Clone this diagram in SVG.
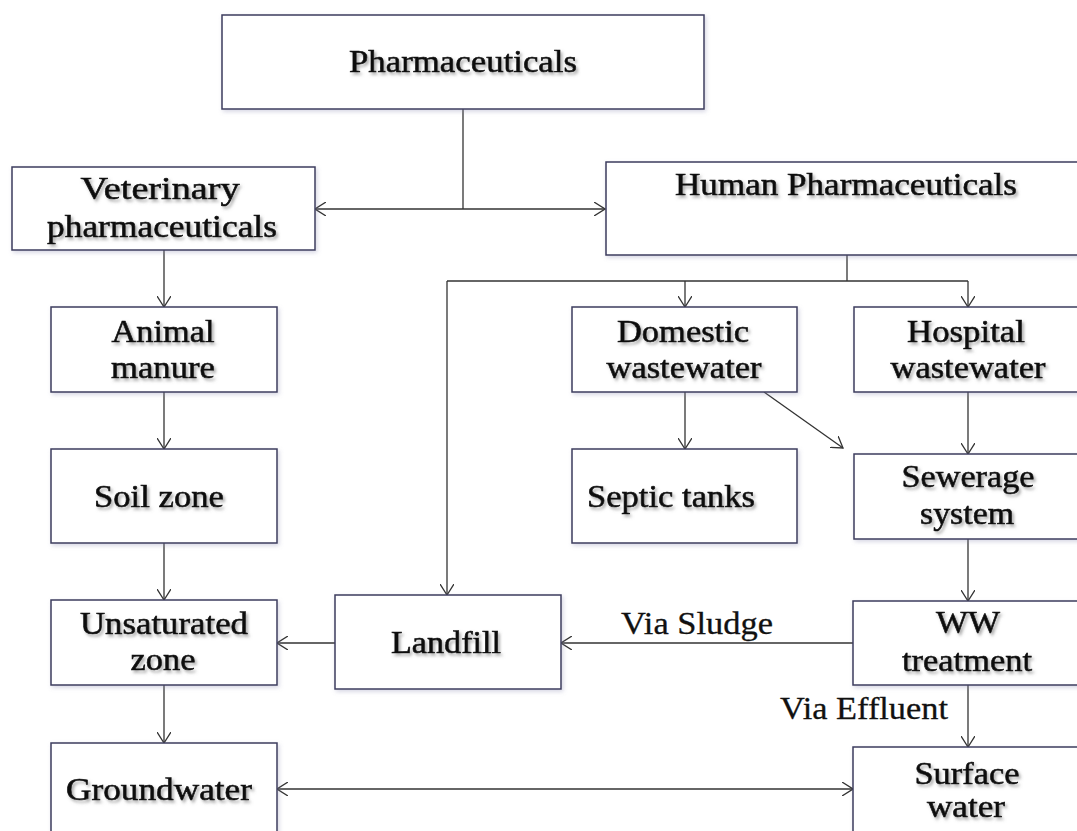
<svg xmlns="http://www.w3.org/2000/svg" width="1077" height="831" viewBox="0 0 1077 831">
<defs>
<style>
.box{fill:#ffffff;stroke:#3d3d5e;stroke-width:1.5;filter:url(#bs)}
.t{font-family:"Liberation Serif","Times New Roman",serif;font-size:31px;fill:#111;stroke:#111;stroke-width:0.6;text-anchor:middle;filter:url(#ts)}
.lbl{font-family:"Liberation Serif","Times New Roman",serif;font-size:31px;fill:#111;stroke:#111;stroke-width:0.3;text-anchor:middle}
.c{fill:none;stroke:#333;stroke-width:1.3}
.a{marker-end:url(#ah)}
.b{marker-start:url(#ah);marker-end:url(#ah)}
</style>
<filter id="ts" x="-10%" y="-30%" width="120%" height="160%">
<feDropShadow dx="2" dy="2.5" stdDeviation="1.5" flood-color="#666" flood-opacity="0.55"/>
</filter>
<filter id="bs" x="-5%" y="-10%" width="110%" height="120%">
<feDropShadow dx="1.5" dy="2" stdDeviation="2" flood-color="#8a8ab0" flood-opacity="0.35"/>
</filter>
<marker id="ah" viewBox="0 0 12 14" markerWidth="12" markerHeight="14" refX="11" refY="7" orient="auto-start-reverse" markerUnits="userSpaceOnUse">
<path d="M0,0 L11,7 L0,14" fill="none" stroke="#333" stroke-width="1.3"/>
</marker>
</defs>
<rect width="1077" height="831" fill="#ffffff"/>

<g id="connectors">
<path class="c" d="M463,109 V209"/>
<path class="c b" d="M315,209 H605"/>
<path class="c a" d="M164,250 V307"/>
<path class="c a" d="M164,392 V449"/>
<path class="c a" d="M164,543 V600"/>
<path class="c a" d="M164,685 V743"/>
<path class="c" d="M847,255 V281"/>
<path class="c" d="M447,281 H968"/>
<path class="c a" d="M685,281 V307"/>
<path class="c a" d="M968,281 V307"/>
<path class="c a" d="M447,281 V595"/>
<path class="c a" d="M685,392 V449"/>
<path class="c a" d="M764,392 L843,448"/>
<path class="c a" d="M968,392 V454"/>
<path class="c a" d="M968,539 V601"/>
<path class="c a" d="M853,643 H561"/>
<path class="c a" d="M335,643 H277"/>
<path class="c a" d="M968,685 V747"/>
<path class="c b" d="M277,789 H853"/>
<text class="lbl" x="697" y="634" textLength="152" lengthAdjust="spacingAndGlyphs">Via Sludge</text>
<text class="lbl" x="864" y="719" textLength="168" lengthAdjust="spacingAndGlyphs">Via Effluent</text>
</g>

<g id="pharmaceuticals">
<rect class="box" x="222" y="15" width="482" height="94"/>
<text class="t" x="463" y="72" textLength="228" lengthAdjust="spacingAndGlyphs">Pharmaceuticals</text>
</g>

<g id="veterinary">
<rect class="box" x="12" y="167" width="303" height="83"/>
<text class="t" x="160" y="199" textLength="159" lengthAdjust="spacingAndGlyphs">Veterinary</text>
<text class="t" x="162" y="237" textLength="230" lengthAdjust="spacingAndGlyphs">pharmaceuticals</text>
</g>

<g id="human">
<rect class="box" x="606" y="162" width="480" height="93"/>
<text class="t" x="846" y="195" textLength="342" lengthAdjust="spacingAndGlyphs">Human Pharmaceuticals</text>
</g>

<g id="animal-manure">
<rect class="box" x="51" y="307" width="226" height="85"/>
<text class="t" x="163" y="342" textLength="103" lengthAdjust="spacingAndGlyphs">Animal</text>
<text class="t" x="163" y="378" textLength="104" lengthAdjust="spacingAndGlyphs">manure</text>
</g>

<g id="soil-zone">
<rect class="box" x="51" y="449" width="226" height="94"/>
<text class="t" x="159" y="507" textLength="130" lengthAdjust="spacingAndGlyphs">Soil zone</text>
</g>

<g id="unsaturated-zone">
<rect class="box" x="51" y="600" width="226" height="85"/>
<text class="t" x="164" y="634" textLength="168" lengthAdjust="spacingAndGlyphs">Unsaturated</text>
<text class="t" x="163" y="670" textLength="65" lengthAdjust="spacingAndGlyphs">zone</text>
</g>

<g id="groundwater">
<rect class="box" x="51" y="743" width="226" height="100"/>
<text class="t" x="159" y="800" textLength="186" lengthAdjust="spacingAndGlyphs">Groundwater</text>
</g>

<g id="domestic">
<rect class="box" x="572" y="307" width="225" height="85"/>
<text class="t" x="683" y="342" textLength="132" lengthAdjust="spacingAndGlyphs">Domestic</text>
<text class="t" x="684" y="378" textLength="155" lengthAdjust="spacingAndGlyphs">wastewater</text>
</g>

<g id="hospital">
<rect class="box" x="854" y="307" width="232" height="85"/>
<text class="t" x="966" y="342" textLength="118" lengthAdjust="spacingAndGlyphs">Hospital</text>
<text class="t" x="968" y="378" textLength="155" lengthAdjust="spacingAndGlyphs">wastewater</text>
</g>

<g id="septic">
<rect class="box" x="572" y="449" width="225" height="94"/>
<text class="t" x="671" y="507" textLength="168" lengthAdjust="spacingAndGlyphs">Septic tanks</text>
</g>

<g id="sewerage">
<rect class="box" x="854" y="454" width="232" height="85"/>
<text class="t" x="968" y="487" textLength="133" lengthAdjust="spacingAndGlyphs">Sewerage</text>
<text class="t" x="967" y="524" textLength="94" lengthAdjust="spacingAndGlyphs">system</text>
</g>

<g id="landfill">
<rect class="box" x="335" y="595" width="226" height="94"/>
<text class="t" x="446" y="653" textLength="110" lengthAdjust="spacingAndGlyphs">Landfill</text>
</g>

<g id="ww-treatment">
<rect class="box" x="853" y="601" width="233" height="84"/>
<text class="t" x="968" y="633" textLength="64" lengthAdjust="spacingAndGlyphs">WW</text>
<text class="t" x="967" y="671" textLength="130" lengthAdjust="spacingAndGlyphs">treatment</text>
</g>

<g id="surface-water">
<rect class="box" x="853" y="747" width="233" height="100"/>
<text class="t" x="967" y="784" textLength="105" lengthAdjust="spacingAndGlyphs">Surface</text>
<text class="t" x="966" y="817" textLength="78" lengthAdjust="spacingAndGlyphs">water</text>
</g>
</svg>
